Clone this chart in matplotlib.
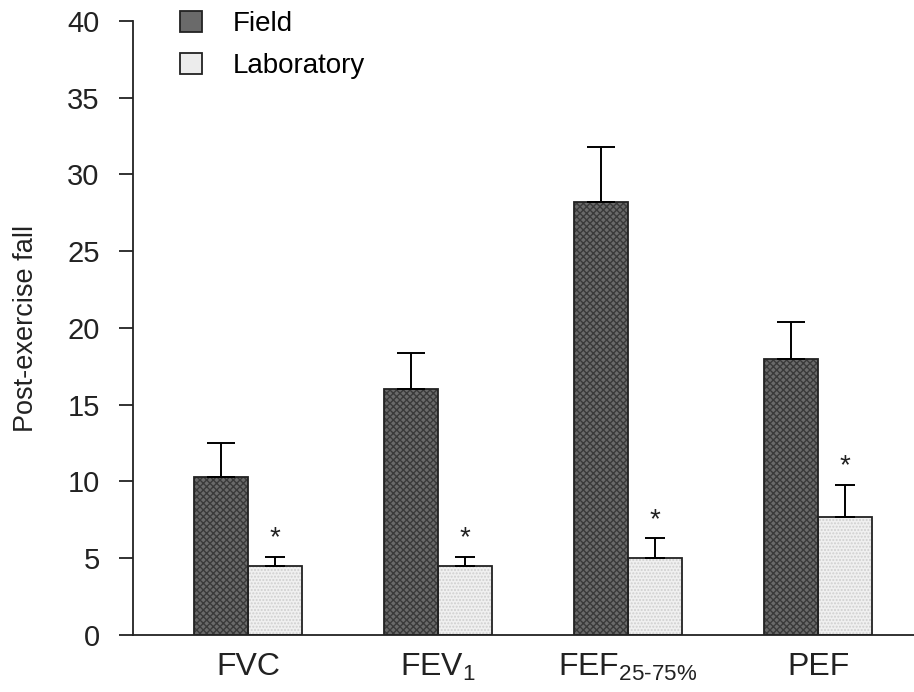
import numpy as np
import matplotlib
matplotlib.use('Agg')
import matplotlib.pyplot as plt

plt.rcParams['font.family'] = ['Liberation Sans', 'DejaVu Sans']
plt.rcParams['mathtext.fontset'] = 'custom'
plt.rcParams['mathtext.rm'] = 'Liberation Sans'
plt.rcParams['mathtext.default'] = 'regular'
plt.rcParams['hatch.linewidth'] = 1.0

# data
measures = ['FVC', 'FEV$_1$', 'FEF$_{25\\text{-}75\\%}$', 'PEF']
field = [10.3, 16.0, 28.2, 18.0]
field_err = [2.2, 2.4, 3.6, 2.4]
lab = [4.5, 4.5, 5.0, 7.7]
lab_err = [0.6, 0.6, 1.3, 2.1]

fig = plt.figure(figsize=(9.14, 6.92), dpi=100)
ax = fig.add_axes([0.1455, 0.0824, 0.8545, 0.8873])

x = np.arange(len(measures))
w = 0.285
ekw = dict(elinewidth=1.4, capthick=1.4)

# stippled fill (hatch drawn in edge colour, no outline), then the outlined bars
ax.bar(x - w/2, field, w, color='#6a6a6a', edgecolor='#3a3a3a', lw=0, hatch='xxxxx')
ax.bar(x + w/2, lab, w, color='#f0f0f0', edgecolor='#cfcfcf', lw=0, hatch='.....')
ax.bar(x - w/2, field, w, color='none', edgecolor='#222222', lw=1.3,
       yerr=[np.zeros(4), field_err], capsize=10, error_kw=ekw, label='Field')
ax.bar(x + w/2, lab, w, color='none', edgecolor='#222222', lw=1.3,
       yerr=[np.zeros(4), lab_err], capsize=7, error_kw=ekw, label='Laboratory')

for xi, v, e in zip(x, lab, lab_err):
    ax.text(xi + w/2, v + e + 0.35, '*', ha='center', va='bottom', fontsize=20, color='#222222')

ax.set_xlim(-0.605, 3.505)
ax.set_ylim(0, 40)
ax.set_yticks(range(0, 41, 5))
ax.set_xticks(x)
ax.set_xticklabels(measures, fontsize=23, color='#222222')
ax.tick_params(axis='x', length=0, pad=12)
ax.tick_params(axis='y', labelsize=21, length=10, width=1.3, colors='#222222', pad=14)
ax.set_ylabel('Post-exercise fall', fontsize=19.5, color='#222222', labelpad=20)
for s in ['top', 'right']:
    ax.spines[s].set_visible(False)
for s in ['left', 'bottom']:
    ax.spines[s].set_linewidth(1.3)
    ax.spines[s].set_color('#222222')

# legend handles: filled squares like the bars
from matplotlib.patches import Patch
handles = [Patch(facecolor='#6a6a6a', edgecolor='#222222', lw=1.3),
           Patch(facecolor='#ececec', edgecolor='#222222', lw=1.3)]
fig.legend(handles, ['Field', 'Laboratory'], loc='upper left',
           bbox_to_anchor=(180/914, 1 - 11/692), frameon=False, fontsize=20,
           borderpad=0, borderaxespad=0,
           handlelength=0.8, handleheight=0.8, handletextpad=1.1, labelspacing=0.55)

fig.savefig('out.png', dpi=100)
